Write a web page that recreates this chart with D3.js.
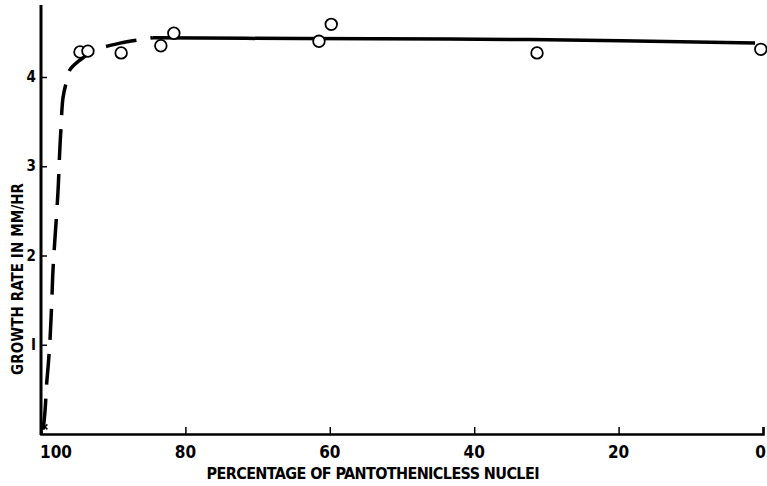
<!DOCTYPE html>
<html>
<head>
  <meta charset="utf-8">
  <script src="https://d3js.org/d3.v7.min.js"></script>
  <style>
    body { margin: 0; background: white; }
    text {
      font-family: "Liberation Sans Narrow", "DejaVu Sans Condensed", sans-serif;
      font-weight: bold;
      fill: black;
    }
  </style>
</head>
<body>
<script type="text/javascript">
  // percentage of pantothenicless nuclei vs growth rate (mm/hr)
  var observedPct  = [94.6, 93.5, 88.9, 83.4, 81.6, 61.5, 59.8, 31.3, 0.3];
  var observedRate = [4.28, 4.29, 4.27, 4.35, 4.49, 4.40, 4.59, 4.27, 4.31];

  // dashed rise near 100 %
  var risePct  = [99.7, 99.45, 99.2, 99.0, 98.75, 98.5, 98.35, 98.1, 97.65, 97.4, 97.25, 96.95, 96.5, 96.0, 94.6, 92.5, 89.05, 84.5];
  var riseRate = [0.05, 0.25, 0.58, 0.77, 1.06, 1.5, 1.82, 2.15, 2.71, 3.18, 3.40, 3.77, 3.94, 4.08, 4.19, 4.30, 4.38, 4.44];

  // solid plateau
  var plateauPct  = [84.5, 64.1, 32.3, 1.1];
  var plateauRate = [4.44, 4.43, 4.42, 4.38];

  // small cross at the origin
  var crossPct = [99.6];
  var crossRate = [0.08];

  var xTicks = [100, 80, 60, 40, 20, 0];
  var yTicks = [1, 2, 3, 4];

  var width = 767, height = 486;

  var svg = d3.select("body").append("svg")
      .attr("width", width)
      .attr("height", height);

  var x = d3.scaleLinear().domain([100, 0]).range([41, 763]);
  var y = d3.scaleLinear().domain([0, 4]).range([434, 77]);

  function zip(a, b) {
    return a.map(function (v, i) { return [v, b[i]]; });
  }

  // axes
  var xAxis = svg.append("g")
      .attr("transform", "translate(0," + y(0) + ")")
      .call(d3.axisTop(x).tickValues(xTicks).tickSize(7).tickFormat(""));
  xAxis.select(".domain").attr("stroke-width", 2.5);
  xAxis.selectAll(".tick line").attr("stroke-width", 1.5);

  var yAxis = svg.append("g")
      .attr("transform", "translate(" + x(100) + ",0)")
      .call(d3.axisRight(y).tickValues(yTicks).tickSize(6).tickFormat(""));
  yAxis.select(".domain").remove();
  yAxis.selectAll(".tick line").attr("stroke-width", 1.5);

  svg.append("line")
      .attr("x1", x(100)).attr("x2", x(100))
      .attr("y1", 5).attr("y2", y(0) + 1)
      .attr("stroke", "black")
      .attr("stroke-width", 3);

  // tick labels
  svg.selectAll(".xlab")
      .data(xTicks)
      .enter().append("text")
      .attr("class", "xlab")
      .attr("x", function (d) { return d === 100 ? x(d) - 1 : d === 0 ? width - 1 : x(d); })
      .attr("y", 458)
      .attr("text-anchor", function (d) { return d === 100 ? "start" : d === 0 ? "end" : "middle"; })
      .style("font-size", "17px")
      .text(function (d) { return d; });

  svg.selectAll(".ylab")
      .data(yTicks)
      .enter().append("text")
      .attr("class", "ylab")
      .attr("x", 36)
      .attr("y", function (d) { return y(d) + 5; })
      .attr("text-anchor", "end")
      .style("font-size", "15px")
      .text(function (d) { return d === 1 ? "I" : d; });

  // axis titles
  svg.append("text")
      .attr("x", 373)
      .attr("y", 479)
      .attr("text-anchor", "middle")
      .attr("textLength", 333)
      .attr("lengthAdjust", "spacing")
      .style("font-size", "16px")
      .text("PERCENTAGE OF PANTOTHENICLESS NUCLEI");

  svg.append("text")
      .attr("transform", "translate(23,279) rotate(-90)")
      .attr("text-anchor", "middle")
      .attr("textLength", 192)
      .attr("lengthAdjust", "spacing")
      .style("font-size", "15px")
      .text("GROWTH RATE IN MM/HR");

  // curves
  var line = d3.line()
      .x(function (d) { return x(d[0]); })
      .y(function (d) { return y(d[1]); })
      .curve(d3.curveCatmullRom);

  svg.append("path")
      .datum(zip(risePct, riseRate))
      .attr("d", line)
      .attr("fill", "none")
      .attr("stroke", "black")
      .attr("stroke-width", 3.5)
      .attr("stroke-dasharray", "31,14");

  svg.append("path")
      .datum(zip(plateauPct, plateauRate))
      .attr("d", line)
      .attr("fill", "none")
      .attr("stroke", "black")
      .attr("stroke-width", 3.5);

  // cross near origin
  svg.selectAll(".cross")
      .data(zip(crossPct, crossRate))
      .enter().append("path")
      .attr("class", "cross")
      .attr("transform", function (d) { return "translate(" + (x(d[0]) + 1) + "," + y(d[1]) + ")"; })
      .attr("d", d3.symbol().type(d3.symbolX).size(18))
      .attr("fill", "none")
      .attr("stroke", "black")
      .attr("stroke-width", 1.5);

  // observed points
  svg.selectAll(".pt")
      .data(zip(observedPct, observedRate))
      .enter().append("circle")
      .attr("class", "pt")
      .attr("cx", function (d) { return x(d[0]); })
      .attr("cy", function (d) { return y(d[1]); })
      .attr("r", 5.8)
      .attr("fill", "white")
      .attr("stroke", "black")
      .attr("stroke-width", 1.8);
</script>
</body>
</html>
